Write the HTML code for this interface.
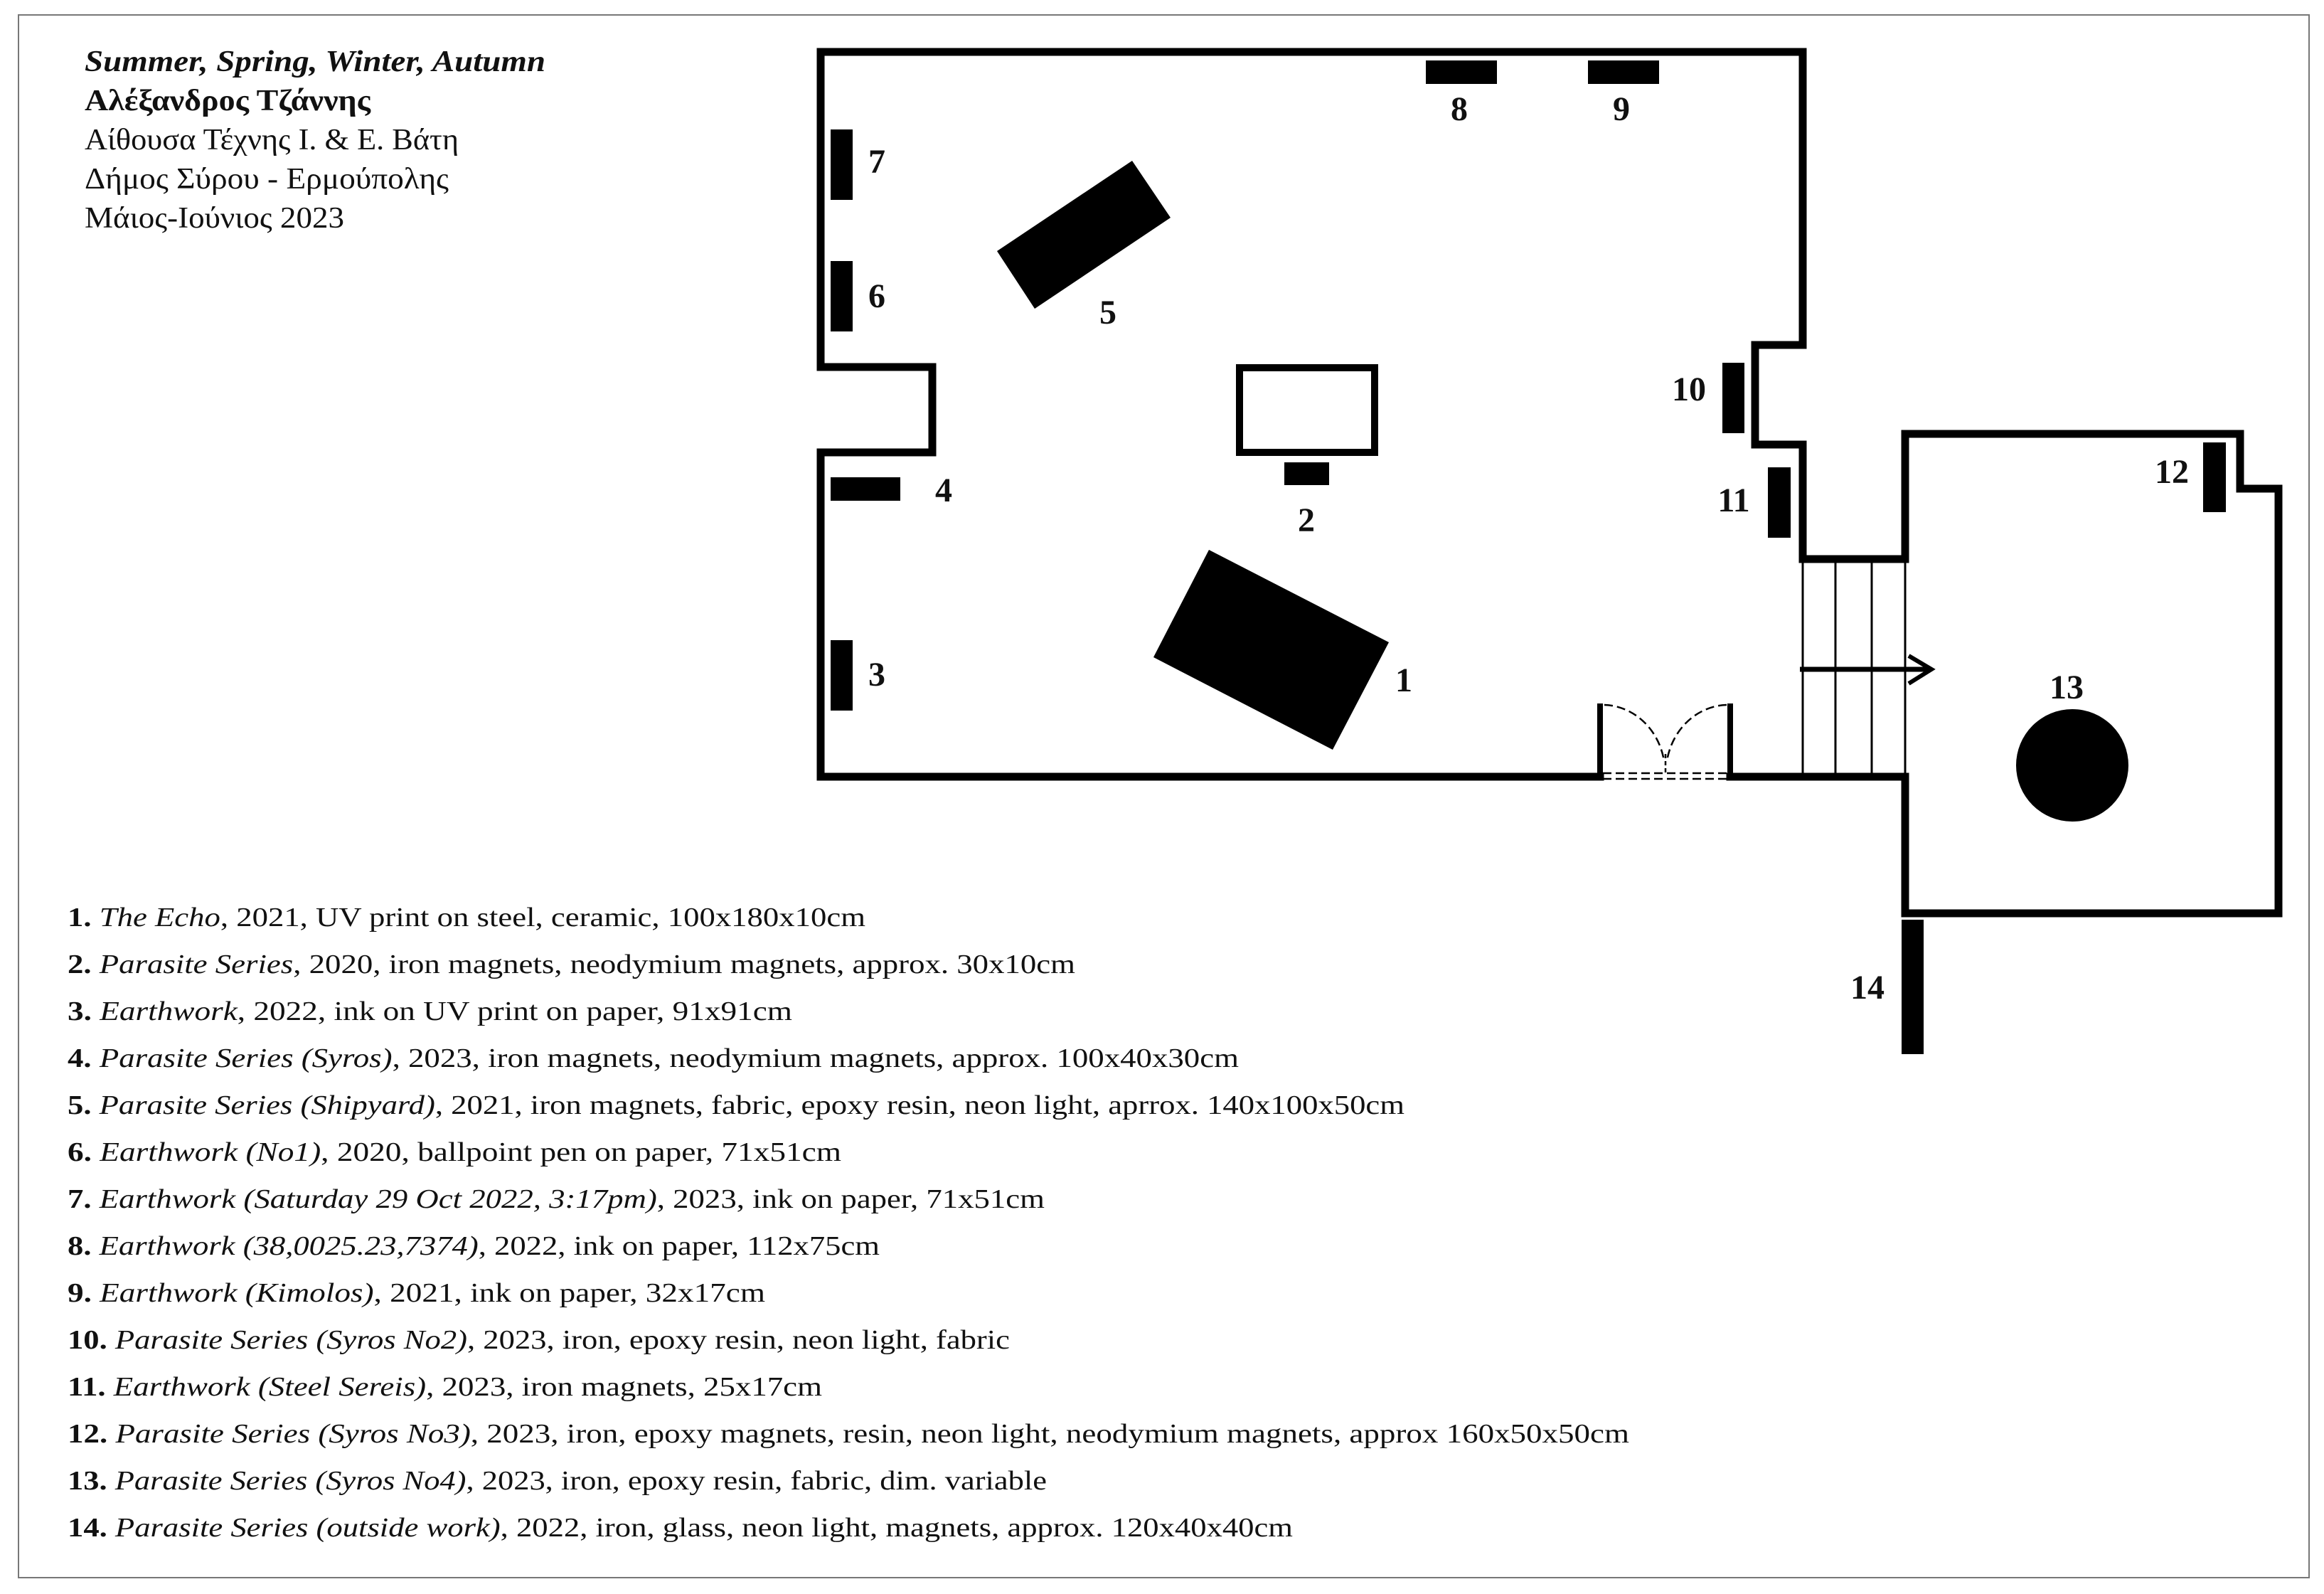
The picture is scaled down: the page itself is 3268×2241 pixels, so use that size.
<!DOCTYPE html>
<html><head><meta charset="utf-8"><style>
html,body{margin:0;padding:0;background:#fff;}
svg{display:block;}
text{font-family:"Liberation Serif","DejaVu Serif",serif;fill:#111;}
.n{font-weight:bold;font-size:48px;text-anchor:middle;}
.l{font-size:38px;}
</style></head><body>
<svg width="3268" height="2241" viewBox="0 0 3268 2241" xmlns="http://www.w3.org/2000/svg">
<rect x="0" y="0" width="3268" height="2241" fill="#fff"/>
<rect x="26" y="21" width="3221" height="2197" fill="none" stroke="#777" stroke-width="2"/>

<!-- header -->
<text x="119" y="100" font-size="42" font-weight="bold" font-style="italic" textLength="648" lengthAdjust="spacingAndGlyphs">Summer, Spring, Winter, Autumn</text>
<text x="119" y="155" font-size="42" font-weight="bold" textLength="402" lengthAdjust="spacingAndGlyphs">Αλέξανδρος Τζάννης</text>
<text x="119" y="210" font-size="42" textLength="526" lengthAdjust="spacingAndGlyphs">Αίθουσα Τέχνης Ι. &amp; Ε. Βάτη</text>
<text x="119" y="265" font-size="42" textLength="512" lengthAdjust="spacingAndGlyphs">Δήμος Σύρου - Ερμούπολης</text>
<text x="119" y="320" font-size="42" textLength="365" lengthAdjust="spacingAndGlyphs">Μάιος-Ιούνιος 2023</text>

<!-- walls -->
<g fill="none" stroke="#000" stroke-width="11" stroke-linejoin="miter" stroke-linecap="square">
<polyline points="2250,1092 1154,1092 1154,636 1311,636 1311,516 1154,516 1154,73 2535,73 2535,485 2468,485 2468,625 2535,625 2535,786 2679,786"/>
<polyline points="2679,786 2679,610 3150,610 3150,687 3204,687 3204,1284 2679,1284 2679,1092"/>
<line x1="2433" y1="1092" x2="2679" y2="1092"/>
</g>
<!-- stairs -->
<g stroke="#000" stroke-width="3">
<line x1="2535" y1="786" x2="2535" y2="1092"/>
<line x1="2581" y1="786" x2="2581" y2="1092"/>
<line x1="2632" y1="786" x2="2632" y2="1092"/>
<line x1="2679" y1="786" x2="2679" y2="1092"/>
</g>
<!-- arrow -->
<line x1="2531" y1="941" x2="2714" y2="941" stroke="#000" stroke-width="7"/>
<polyline points="2684,922 2716,941 2684,961" fill="none" stroke="#000" stroke-width="6"/>

<!-- door -->
<rect x="2246" y="989" width="8" height="103" fill="#000"/>
<rect x="2429" y="989" width="8" height="103" fill="#000"/>
<g fill="none" stroke="#000" stroke-width="2.5" stroke-dasharray="12,6">
<line x1="2254" y1="1087" x2="2429" y2="1087"/>
<line x1="2254" y1="1095" x2="2429" y2="1095"/>
<path d="M2256,991 A88 95 0 0 1 2340,1070"/>
<path d="M2428,991 A88 95 0 0 0 2344,1070"/>
<line x1="2342" y1="1060" x2="2342" y2="1086" stroke-dasharray="6,4"/>
</g>

<!-- artworks -->
<g fill="#000">
<rect x="1168" y="182" width="31" height="99"/>
<rect x="1168" y="367" width="31" height="99"/>
<rect x="1168" y="900" width="31" height="99"/>
<rect x="1168" y="671" width="98" height="33"/>
<rect x="2005" y="85" width="100" height="33"/>
<rect x="2233" y="85" width="100" height="33"/>
<polygon points="1402,353 1592,226 1646,306 1455,434"/>
<polygon points="1700,773 1953,903 1874,1054 1622,924"/>
<rect x="1806" y="650" width="63" height="32"/>
<rect x="2422" y="510" width="31" height="99"/>
<rect x="2486" y="657" width="32" height="99"/>
<rect x="3098" y="622" width="32" height="98"/>
<rect x="2674" y="1293" width="31" height="189"/>
<circle cx="2914" cy="1076" r="79"/>
</g>
<rect x="1743" y="517" width="190" height="119" fill="none" stroke="#000" stroke-width="10"/>

<!-- numbers -->
<text class="n" x="1974" y="972">1</text>
<text class="n" x="1837" y="747">2</text>
<text class="n" x="1233" y="964">3</text>
<text class="n" x="1327" y="705">4</text>
<text class="n" x="1558" y="455">5</text>
<text class="n" x="1233" y="432">6</text>
<text class="n" x="1233" y="243">7</text>
<text class="n" x="2052" y="169">8</text>
<text class="n" x="2280" y="169">9</text>
<text class="n" x="2375" y="563">10</text>
<text class="n" x="2438" y="719">11</text>
<text class="n" x="3054" y="679">12</text>
<text class="n" x="2906" y="982">13</text>
<text class="n" x="2626" y="1404">14</text>

<!-- list -->
<text class="l" x="95" y="1302" textLength="1122" lengthAdjust="spacingAndGlyphs"><tspan font-weight="bold">1.</tspan> <tspan font-style="italic">The Echo</tspan>, 2021, UV print on steel, ceramic, 100x180x10cm</text>
<text class="l" x="95" y="1368" textLength="1417" lengthAdjust="spacingAndGlyphs"><tspan font-weight="bold">2.</tspan> <tspan font-style="italic">Parasite Series</tspan>, 2020, iron magnets, neodymium magnets, approx. 30x10cm</text>
<text class="l" x="95" y="1434" textLength="1019" lengthAdjust="spacingAndGlyphs"><tspan font-weight="bold">3.</tspan> <tspan font-style="italic">Earthwork</tspan>, 2022, ink on UV print on paper, 91x91cm</text>
<text class="l" x="95" y="1500" textLength="1647" lengthAdjust="spacingAndGlyphs"><tspan font-weight="bold">4.</tspan> <tspan font-style="italic">Parasite Series (Syros)</tspan>, 2023, iron magnets, neodymium magnets, approx. 100x40x30cm</text>
<text class="l" x="95" y="1566" textLength="1880" lengthAdjust="spacingAndGlyphs"><tspan font-weight="bold">5.</tspan> <tspan font-style="italic">Parasite Series (Shipyard)</tspan>, 2021, iron magnets, fabric, epoxy resin, neon light, aprrox. 140x100x50cm</text>
<text class="l" x="95" y="1632" textLength="1088" lengthAdjust="spacingAndGlyphs"><tspan font-weight="bold">6.</tspan> <tspan font-style="italic">Earthwork (No1)</tspan>, 2020, ballpoint pen on paper, 71x51cm</text>
<text class="l" x="95" y="1698" textLength="1374" lengthAdjust="spacingAndGlyphs"><tspan font-weight="bold">7.</tspan> <tspan font-style="italic">Earthwork (Saturday 29 Oct 2022, 3:17pm)</tspan>, 2023, ink on paper, 71x51cm</text>
<text class="l" x="95" y="1764" textLength="1142" lengthAdjust="spacingAndGlyphs"><tspan font-weight="bold">8.</tspan> <tspan font-style="italic">Earthwork (38,0025.23,7374)</tspan>, 2022, ink on paper, 112x75cm</text>
<text class="l" x="95" y="1830" textLength="981" lengthAdjust="spacingAndGlyphs"><tspan font-weight="bold">9.</tspan> <tspan font-style="italic">Earthwork (Kimolos)</tspan>, 2021, ink on paper, 32x17cm</text>
<text class="l" x="95" y="1896" textLength="1325" lengthAdjust="spacingAndGlyphs"><tspan font-weight="bold">10.</tspan> <tspan font-style="italic">Parasite Series (Syros No2)</tspan>, 2023, iron, epoxy resin, neon light, fabric</text>
<text class="l" x="95" y="1962" textLength="1061" lengthAdjust="spacingAndGlyphs"><tspan font-weight="bold">11.</tspan> <tspan font-style="italic">Earthwork (Steel Sereis)</tspan>, 2023, iron magnets, 25x17cm</text>
<text class="l" x="95" y="2028" textLength="2196" lengthAdjust="spacingAndGlyphs"><tspan font-weight="bold">12.</tspan> <tspan font-style="italic">Parasite Series (Syros No3)</tspan>, 2023, iron, epoxy magnets, resin, neon light, neodymium magnets, approx 160x50x50cm</text>
<text class="l" x="95" y="2094" textLength="1377" lengthAdjust="spacingAndGlyphs"><tspan font-weight="bold">13.</tspan> <tspan font-style="italic">Parasite Series (Syros No4)</tspan>, 2023, iron, epoxy resin, fabric, dim. variable</text>
<text class="l" x="95" y="2160" textLength="1723" lengthAdjust="spacingAndGlyphs"><tspan font-weight="bold">14.</tspan> <tspan font-style="italic">Parasite Series (outside work)</tspan>, 2022, iron, glass, neon light, magnets, approx. 120x40x40cm</text>
</svg>
</body></html>
